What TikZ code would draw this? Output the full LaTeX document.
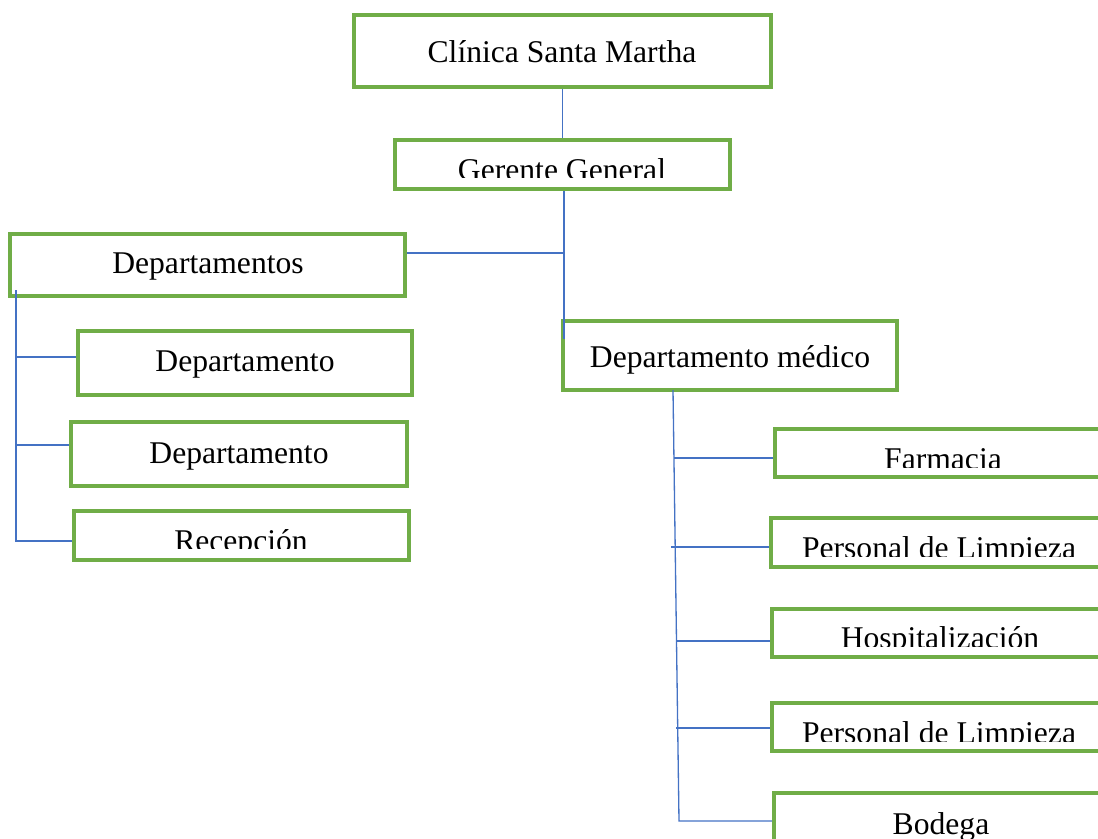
\documentclass[tikz,border=0pt]{standalone}
\usepackage{fontspec}
\setmainfont{Liberation Serif}
\usetikzlibrary{fit}
\definecolor{boxgreen}{HTML}{70AD47}
\definecolor{linkblue}{HTML}{4472C4}
\begin{document}
\begin{tikzpicture}[x=0.02cm, y=-0.02cm,
  orgbox/.style={draw=boxgreen, line width=0.08cm, inner sep=0pt},
  boxtext/.style={anchor=base, inner sep=0pt, font=\fontsize{18}{21}\selectfont},
  conn/.style={draw=linkblue, line width=0.75pt}]
\useasboundingbox (0,0) rectangle (1098,838);
% Junction points of the blue connectors
\coordinate (hub) at (564,253);
\coordinate (medtap) at (564,339);
\coordinate (ltop) at (16,290);
\coordinate (l1) at (17,357);
\coordinate (l2) at (17,445);
\coordinate (lbot) at (16,541);
\coordinate (rtop) at (673,390);
\coordinate (r1) at (674,458);
\coordinate (r2) at (671,547);
\coordinate (r3) at (676,641);
\coordinate (r4) at (676,728);
\coordinate (rbot) at (679,821);
% Boxes (frames only, texts clipped below)
\node[orgbox, fit={(354,15) (771,87)}] (clinica) {};
\node[orgbox, fit={(395,140) (730,189)}] (gerente) {};
\node[orgbox, fit={(10,234) (405,296)}] (deptos) {};
\node[orgbox, fit={(78,331) (412,395)}] (dep1) {};
\node[orgbox, fit={(71,422) (407,486)}] (dep2) {};
\node[orgbox, fit={(74,511) (409,560)}] (recep) {};
\node[orgbox, fit={(563,321) (897,390)}] (medico) {};
\node[orgbox, fit={(775,429) (1112,477)}] (farm) {};
\node[orgbox, fit={(771,518) (1112,567)}] (limp1) {};
\node[orgbox, fit={(772,609) (1112,657)}] (hosp) {};
\node[orgbox, fit={(772,703) (1112,751)}] (limp2) {};
\node[orgbox, fit={(774,793) (1112,860)}] (bodega) {};
% Connectors
\draw[conn] (clinica) -- (gerente);
\draw[conn] (gerente.south -| hub) -- (medtap);
\draw[conn] (deptos.east |- hub) -- (hub);
\draw[conn] (ltop) -- (lbot) -- (lbot -| recep.west);
\draw[conn] (l1) -- (l1 -| dep1.west);
\draw[conn] (l2) -- (l2 -| dep2.west);
\draw[conn] (rtop) -- (rbot) -- (rbot -| bodega.west);
\draw[conn] (r1) -- (r1 -| farm.west);
\draw[conn] (r2) -- (r2 -| limp1.west);
\draw[conn] (r3) -- (r3 -| hosp.west);
\draw[conn] (r4) -- (r4 -| limp2.west);
% Texts, cut off at the lower edge of their text frames
\node[boxtext] (clinica text) at (562,63) {Clínica Santa Martha};
\begin{scope}
  \clip (395,140) rectangle (730,177);
  \node[boxtext] (gerente text) at (562,180) {Gerente General};
\end{scope}
\node[boxtext] (deptos text) at (208,273) {Departamentos};
\node[boxtext] (dep1 text) at (245,371) {Departamento};
\node[boxtext] (dep2 text) at (239,463) {Departamento};
\begin{scope}
  \clip (74,511) rectangle (409,548);
  \node[boxtext] (recep text) at (241,551) {Recepción};
\end{scope}
\node[boxtext] (medico text) at (730,367) {Departamento médico};
\begin{scope}
  \clip (775,429) rectangle (1112,467);
  \node[boxtext] (farm text) at (943,469) {Farmacia};
\end{scope}
\begin{scope}
  \clip (771,518) rectangle (1112,556);
  \node[boxtext] (limp1 text) at (939,558) {Personal de Limpieza};
\end{scope}
\begin{scope}
  \clip (772,609) rectangle (1112,646);
  \node[boxtext] (hosp text) at (940,648) {Hospitalización};
\end{scope}
\begin{scope}
  \clip (772,703) rectangle (1112,741);
  \node[boxtext] (limp2 text) at (939,743) {Personal de Limpieza};
\end{scope}
\node[boxtext] (bodega text) at (941,834) {Bodega};
\end{tikzpicture}
\end{document}
